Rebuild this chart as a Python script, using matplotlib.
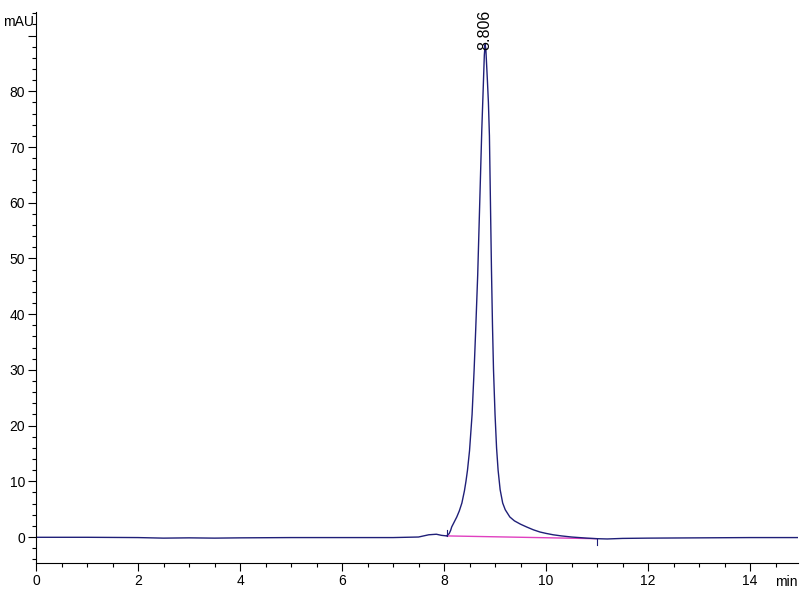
import matplotlib
matplotlib.use('Agg')
from matplotlib import pyplot as plt
from matplotlib.ticker import MultipleLocator

plt.rcParams['font.family'] = ['Liberation Sans', 'DejaVu Sans']

# chromatogram trace (min, mAU)
time = [0.0, 1.0, 2.0, 2.5, 3.0, 3.5, 4.0, 5.0, 6.0, 7.0, 7.5, 7.7, 7.85,
        7.95, 8.05, 8.1, 8.13, 8.15, 8.2, 8.25, 8.3, 8.35, 8.4, 8.43, 8.46,
        8.5, 8.55, 8.59, 8.62, 8.66, 8.70, 8.74, 8.77, 8.79, 8.806, 8.82,
        8.85, 8.87, 8.89, 8.91, 8.93, 8.95, 8.97, 9.0, 9.03, 9.06, 9.1, 9.15,
        9.2, 9.29, 9.38, 9.5, 9.62, 9.75, 9.88, 10.0, 10.14, 10.3, 10.5,
        10.8, 11.0, 11.2, 11.5, 12.0, 13.0, 14.0, 14.95]
signal = [-0.05, -0.05, -0.1, -0.2, -0.15, -0.2, -0.15, -0.1, -0.1, -0.1,
          0.0, 0.4, 0.5, 0.3, 0.2, 0.6, 1.2, 1.8, 2.7, 3.6, 4.7, 6.1, 8.3,
          10.0, 12.0, 15.5, 22.0, 30.0, 37.0, 47.0, 60.0, 73.0, 81.0, 86.5,
          88.4, 87.5, 82.0, 78.0, 72.0, 60.0, 48.0, 38.0, 30.0, 22.0, 16.0,
          12.0, 8.5, 6.1, 4.9, 3.6, 2.9, 2.3, 1.8, 1.3, 0.9, 0.65, 0.4, 0.2,
          0.0, -0.2, -0.3, -0.35, -0.25, -0.2, -0.15, -0.1, -0.1]

# integration baseline
base_t = [8.05, 11.0]
base_v = [0.2, -0.3]

peak_t = 8.806
peak_v = 88.4
peak_label = '8.806'

fig = plt.figure(figsize=(8, 6), dpi=100)
ax = fig.add_axes([0.045, 0.0617, 0.9525, 0.918])

ax.plot(base_t, base_v, color='#e040c0', lw=1)
ax.plot(time, signal, color='#1f1f78', lw=1)
# integration start / end markers
ax.plot([base_t[0], base_t[0]], [base_v[0], base_v[0] + 1.0], color='#1f1f78', lw=0.8)
ax.plot([base_t[1], base_t[1]], [base_v[1], base_v[1] - 1.2], color='#1f1f78', lw=0.8)

ax.text(peak_t, peak_v - 1.0, peak_label, rotation=90, ha='center', va='bottom',
        fontsize=11.5, clip_on=False)

ax.set_xlim(0, 14.94)
ax.set_ylim(-4.66, 94.2)

for s in ['top', 'right']:
    ax.spines[s].set_visible(False)

ax.xaxis.set_major_locator(MultipleLocator(2))
ax.xaxis.set_minor_locator(MultipleLocator(0.5))
ax.yaxis.set_major_locator(MultipleLocator(10))
ax.yaxis.set_minor_locator(MultipleLocator(2))
ax.tick_params(which='major', length=6, width=0.8, labelsize=10, pad=2)
ax.tick_params(which='minor', length=3, width=0.8)

ax.set_xticks(range(0, 15, 2))
ax.set_xticklabels([str(v) for v in range(0, 15, 2)])
yt = list(range(0, 100, 10))
ax.set_yticks(yt)
ax.set_yticklabels([str(v) if v < 90 else '' for v in yt])

fig.text(0.004, 0.963, 'mAU', fontsize=10, ha='left', va='center')
fig.text(0.997, 0.03, 'min', fontsize=10, ha='right', va='center')

plt.savefig('out.png', dpi=100)
